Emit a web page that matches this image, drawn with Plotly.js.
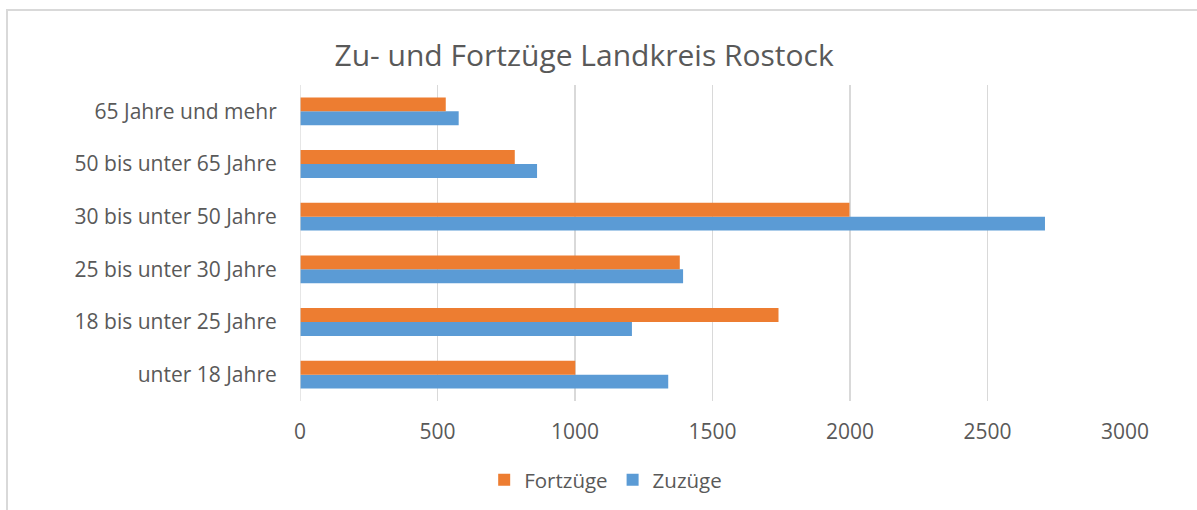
<!DOCTYPE html>
<html>
<head>
<meta charset="utf-8">
<script src="https://cdn.plot.ly/plotly-3.0.1.min.js"></script>
<style>
  html, body { margin: 0; padding: 0; background: #fff; overflow: hidden; }
  #frame { position: absolute; left: 6px; top: 9px; width: 1300px; height: 600px; border: 2px solid #D9D9D9; box-sizing: border-box; pointer-events: none; }
  #chart { position: absolute; left: 0; top: 0; width: 1197px; height: 510px; }
</style>
</head>
<body>
<div id="chart"></div>
<div id="frame"></div>
<script>
const categories = ["unter 18 Jahre", "18 bis unter 25 Jahre", "25 bis unter 30 Jahre", "30 bis unter 50 Jahre", "50 bis unter 65 Jahre", "65 Jahre und mehr"];
const zuzuege = [1339, 1207, 1393, 2709, 862, 577];
const fortzuege = [1001, 1740, 1381, 1998, 781, 530];
const xTicks = [0, 500, 1000, 1500, 2000, 2500, 3000];

const font = "'Open Sans', 'Noto Sans', sans-serif";
const txt = "#595959";

const traces = [
  { type: "bar", orientation: "h", name: "Zuzüge", y: categories, x: zuzuege,
    marker: { color: "#5B9BD5" }, hoverinfo: "x+name" },
  { type: "bar", orientation: "h", name: "Fortzüge", y: categories, x: fortzuege,
    marker: { color: "#ED7D31" }, hoverinfo: "x+name" }
];

const layout = {
  width: 1197, height: 510,
  margin: { l: 300, r: 72, t: 85, b: 108.5 },
  paper_bgcolor: "rgba(0,0,0,0)", plot_bgcolor: "rgba(0,0,0,0)",
  barmode: "group", bargap: 0.47, bargroupgap: 0,
  title: { text: "Zu- und Fortzüge Landkreis Rostock", x: 0.488, xref: "container", xanchor: "center",
           y: 1 - 55 / 510, yref: "container", yanchor: "middle",
           font: { family: font, size: 30, color: txt } },
  xaxis: { range: [0, 3000], tickvals: xTicks, ticktext: xTicks.map(String),
           showgrid: true, gridcolor: "#D9D9D9", gridwidth: 1.3, zeroline: false,
           showline: false, ticks: "outside", ticklen: 12, tickcolor: "rgba(0,0,0,0)",
           tickfont: { family: font, size: 21, color: txt }, fixedrange: true },
  yaxis: { type: "category", categoryorder: "array", categoryarray: categories,
           showgrid: false, zeroline: false, showline: false,
           ticks: "outside", ticklen: 18, tickcolor: "rgba(0,0,0,0)",
           tickfont: { family: font, size: 21, color: txt }, fixedrange: true },
  showlegend: true,
  legend: { orientation: "h", traceorder: "reversed", x: 0.506, xref: "container", xanchor: "center",
            y: 1 - 480 / 510, yref: "container", yanchor: "middle",
            font: { family: font, size: 20.5, color: txt }, itemwidth: 30 },
  shapes: [{ type: "line", xref: "x", yref: "paper", x0: 0, x1: 0, y0: 0, y1: 1,
             line: { color: "#D9D9D9", width: 1.3 } }]
};

Plotly.newPlot("chart", traces, layout, { displayModeBar: false, staticPlot: true });
</script>
</body>
</html>
